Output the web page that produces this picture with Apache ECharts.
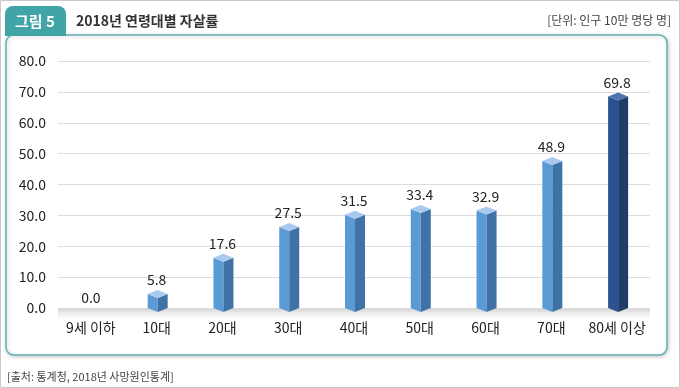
<!DOCTYPE html>
<html><head><meta charset="utf-8">
<script src="https://cdn.jsdelivr.net/npm/echarts@6/dist/echarts.min.js"></script>
<style>html,body{margin:0;padding:0;background:#fff}#c{width:680px;height:388px}</style>
</head><body><div id="c"></div>
<script>
var categories = ['9세 이하','10대','20대','30대','40대','50대','60대','70대','80세 이상'];
var values = [0.0, 5.8, 17.6, 27.5, 31.5, 33.4, 32.9, 48.9, 69.8];
var yTicks = [0,10,20,30,40,50,60,70,80];
var highlightIndex = 8;

var FONT = '"Noto Sans CJK KR","Noto Sans",sans-serif';
var chart = echarts.init(document.getElementById('c'), null, {renderer:'canvas'});

var light = {front:'#5b9bd5', side:'#3f73a8', top:'#a9caee'};
var dark = {front:'#2c5190', side:'#203d68', top:'#4e74b0'};

function renderItem(params, api){
  var idx = api.value(0), v = api.value(1);
  var p = api.coord([idx, v]);
  var p0 = api.coord([idx, 0]);
  var cx = p[0] + 1, y = p[1], y0 = p0[1];
  var hw = 10, d = 4;
  var c = idx === highlightIndex ? dark : light;
  var children = [];
  if (v > 0) {
    children.push({type:'polygon', shape:{points:[[cx-hw,y+d],[cx,y+2*d],[cx,y0+d],[cx-hw,y0]]}, style:{fill:c.front}});
    children.push({type:'polygon', shape:{points:[[cx,y+2*d],[cx+hw,y+d],[cx+hw,y0],[cx,y0+d]]}, style:{fill:c.side}});
    children.push({type:'polygon', shape:{points:[[cx-hw,y+d],[cx,y],[cx+hw,y+d],[cx,y+2*d]]}, style:{fill:c.top}});
  }
  children.push({type:'text', style:{text:v.toFixed(1), x:cx-1, y:y-3, align:'center', verticalAlign:'bottom', fill:'#222', font:'14px '+FONT}});
  return {type:'group', children:children};
}

chart.setOption({
  animation:false,
  graphic:[
    {type:'rect', shape:{x:0.5,y:0.5,width:679,height:387}, style:{fill:'#fff', stroke:'#c9c9c9', lineWidth:1}, z:-10},
    {type:'rect', shape:{x:6,y:35,width:661,height:320,r:8}, style:{fill:'#fff', stroke:'#5fb1b2', lineWidth:1.5, shadowBlur:4, shadowOffsetX:1, shadowOffsetY:1, shadowColor:'rgba(0,0,0,0.2)'}, z:-9},
    {type:'rect', shape:{x:5,y:6,width:61,height:30,r:[8,8,0,0]}, style:{fill:'#41a5a7'}, z:-8},
    {type:'text', style:{text:'그림 5', x:35, y:21, align:'center', verticalAlign:'middle', fill:'#fff', font:'bold 15px '+FONT}},
    {type:'text', style:{text:'2018년 연령대별 자살률', x:76, y:21, align:'left', verticalAlign:'middle', fill:'#333', font:'bold 14px '+FONT}},
    {type:'text', style:{text:'[단위: 인구 10만 명당 명]', x:671, y:20, align:'right', verticalAlign:'middle', fill:'#444', font:'12px '+FONT}},
    {type:'text', style:{text:'[출처: 통계청, 2018년 사망원인통계]', x:7, y:377, align:'left', verticalAlign:'middle', fill:'#444', font:'11px '+FONT}},
    {type:'rect', shape:{x:58,y:308,width:592,height:12}, style:{fill:new echarts.graphic.LinearGradient(0,0,0,1,[{offset:0,color:'rgba(120,120,120,0.35)'},{offset:1,color:'rgba(200,200,200,0)'}])}, z:-1}
  ],
  grid:{left:58, right:30, top:61, bottom:80},
  xAxis:{type:'category', data:categories, axisLine:{show:false}, axisTick:{show:false},
    axisLabel:{margin:13, color:'#222', fontSize:14, fontFamily:FONT, interval:0}},
  yAxis:{type:'value', min:0, max:80, interval:10,
    axisLabel:{margin:12, color:'#222', fontSize:14, fontFamily:FONT, formatter:function(v){return v.toFixed(1);}},
    axisLine:{show:false}, axisTick:{show:false},
    splitLine:{lineStyle:{color:'#dcdcdc', width:1}}},
  series:[{type:'custom', renderItem:renderItem, data:values.map(function(v,i){return [i,v];}), encode:{x:0,y:1}, z:5}]
});
</script></body></html>
